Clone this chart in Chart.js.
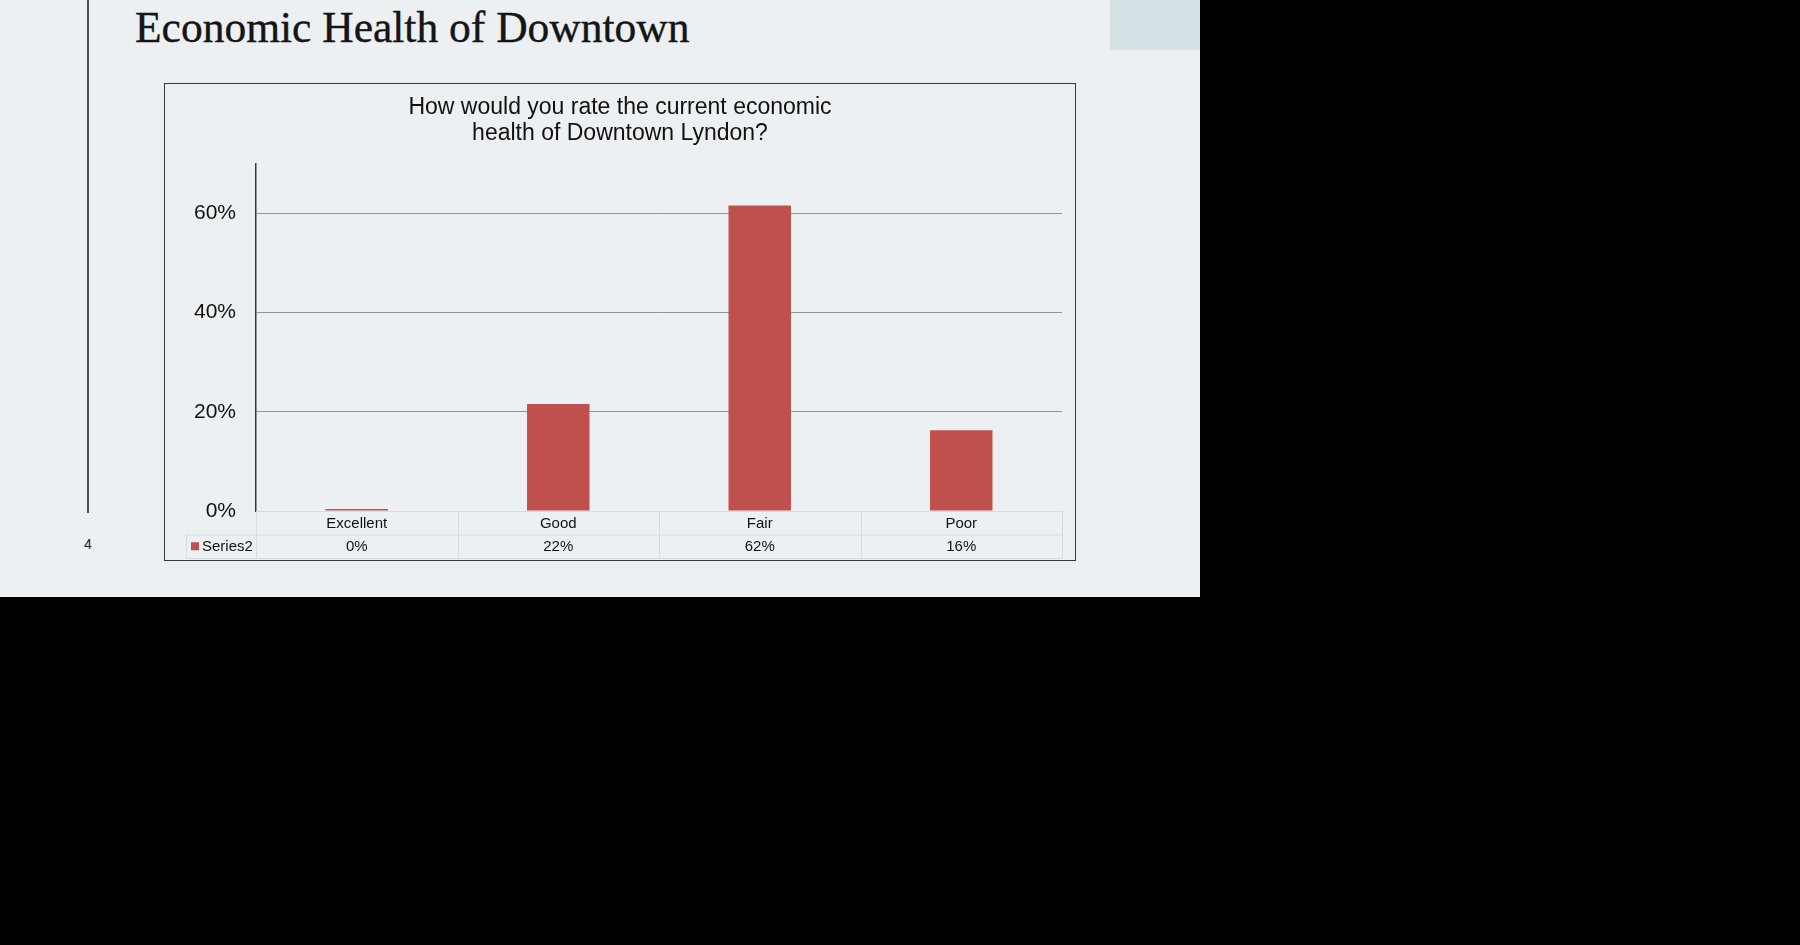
<!DOCTYPE html>
<html>
<head>
<meta charset="utf-8">
<script src="https://cdn.jsdelivr.net/npm/chart.js@4"></script>
<style>
  html, body { margin:0; padding:0; background:#000; width:1800px; height:945px; overflow:hidden; }
  #slide { position:absolute; left:0; top:0; width:1200px; height:597px; background:#ecf0f2; }
  #vline { position:absolute; left:87px; top:0; width:2px; height:513px; background:#3e505c; }
  #pnum { position:absolute; left:80px; top:536px; width:16px; text-align:center; font:14px "Liberation Sans", Arial, sans-serif; color:#222; }
  #corner { position:absolute; left:1110px; top:0; width:90px; height:50px; background:#d4e2e5; }
  #title { position:absolute; left:135px; top:2px; font-family:"Liberation Serif", "DejaVu Serif", serif; font-size:43.5px; color:#151515; white-space:nowrap; line-height:50px; -webkit-text-stroke:0.4px #151515; }
  #box { position:absolute; left:164px; top:83px; width:910px; height:476px; border:1px solid #3a3a3a; }
  #box canvas { display:block; }
</style>
</head>
<body>
<div id="slide">
  <div id="vline"></div>
  <div id="pnum">4</div>
  <div id="corner"></div>
  <div id="title">Economic Health of Downtown</div>
  <div id="box"><canvas id="c" width="910" height="476"></canvas></div>
</div>
<script>
const categories = ["Excellent", "Good", "Fair", "Poor"];
const seriesName = "Series2";
const values = [0.4, 21.6, 61.6, 16.3];
const valueLabels = ["0%", "22%", "62%", "16%"];
const yTicks = [0, 20, 40, 60];
const chartTitle = ["How would you rate the current economic", "health of Downtown Lyndon?"];

const BAR = '#c0504d';
const TABLE_LINE = '#d6dde1';
const FONT = '"Liberation Sans", Arial, sans-serif';

const tablePlugin = {
  id: 'dataTable',
  afterDraw(chart) {
    const ctx = chart.ctx;
    const xs = chart.scales.x;
    const area = chart.chartArea;
    const n = categories.length;
    const step = xs.getPixelForValue(1) - xs.getPixelForValue(0);
    const rowH = 23.5;
    const top = area.bottom;
    const r1 = top + rowH, r2 = top + rowH * 2;
    const legendLeft = area.left - 70;
    ctx.save();
    ctx.strokeStyle = TABLE_LINE;
    ctx.lineWidth = 1;
    ctx.beginPath();
    ctx.moveTo(area.left, top + 0.5); ctx.lineTo(area.right, top + 0.5);
    ctx.moveTo(legendLeft, r1 + 0.5); ctx.lineTo(area.right, r1 + 0.5);
    ctx.moveTo(legendLeft, r2 + 0.5); ctx.lineTo(area.right, r2 + 0.5);
    ctx.moveTo(legendLeft + 0.5, r1); ctx.lineTo(legendLeft + 0.5, r2);
    for (let i = 0; i <= n; i++) {
      const x = Math.round(xs.getPixelForValue(i) - step / 2) + 0.5;
      ctx.moveTo(x, top); ctx.lineTo(x, r2);
    }
    ctx.stroke();
    ctx.fillStyle = '#111';
    ctx.font = '15px ' + FONT;
    ctx.textAlign = 'center';
    ctx.textBaseline = 'middle';
    for (let i = 0; i < n; i++) {
      const cx = xs.getPixelForValue(i);
      ctx.fillText(categories[i], cx, top + rowH / 2 + 1);
      ctx.fillText(valueLabels[i], cx, r1 + rowH / 2 + 1);
    }
    ctx.fillStyle = BAR;
    ctx.fillRect(legendLeft + 5, r1 + rowH / 2 - 4, 8, 8);
    ctx.fillStyle = '#111';
    ctx.textAlign = 'left';
    ctx.fillText(seriesName, legendLeft + 16, r1 + rowH / 2 + 1);
    ctx.restore();
  }
};

new Chart(document.getElementById('c'), {
  type: 'bar',
  data: {
    labels: categories,
    datasets: [{ label: seriesName, data: values, backgroundColor: BAR, borderWidth: 0,
                 categoryPercentage: 1.0, barPercentage: 0.31 }]
  },
  options: {
    responsive: false,
    animation: false,
    devicePixelRatio: 1,
    layout: { padding: { left: 13, right: 13, top: 0, bottom: 49 } },
    plugins: {
      legend: { display: false },
      tooltip: { enabled: false },
      title: {
        display: true,
        text: chartTitle,
        color: '#111',
        font: { family: FONT, size: 23, weight: 'normal', lineHeight: 1.15 },
        padding: { top: 10, bottom: 17 }
      }
    },
    scales: {
      x: {
        ticks: { display: false },
        grid: { display: false, drawTicks: false },
        border: { display: false }
      },
      y: {
        min: 0, max: 70,
        afterBuildTicks: (s) => { s.ticks = yTicks.map(v => ({ value: v })); },
        afterFit: (s) => { s.width = 78; },
        ticks: {
          color: '#111', padding: 20,
          font: { family: FONT, size: 21 },
          callback: (v) => v + '%'
        },
        grid: {
          drawTicks: false,
          color: (c) => c.tick && c.tick.value === 0 ? TABLE_LINE : '#8c989e',
          lineWidth: 1
        },
        border: { display: true, color: '#3a3a3a', width: 1.5 }
      }
    }
  },
  plugins: [tablePlugin]
});
</script>
</body>
</html>
